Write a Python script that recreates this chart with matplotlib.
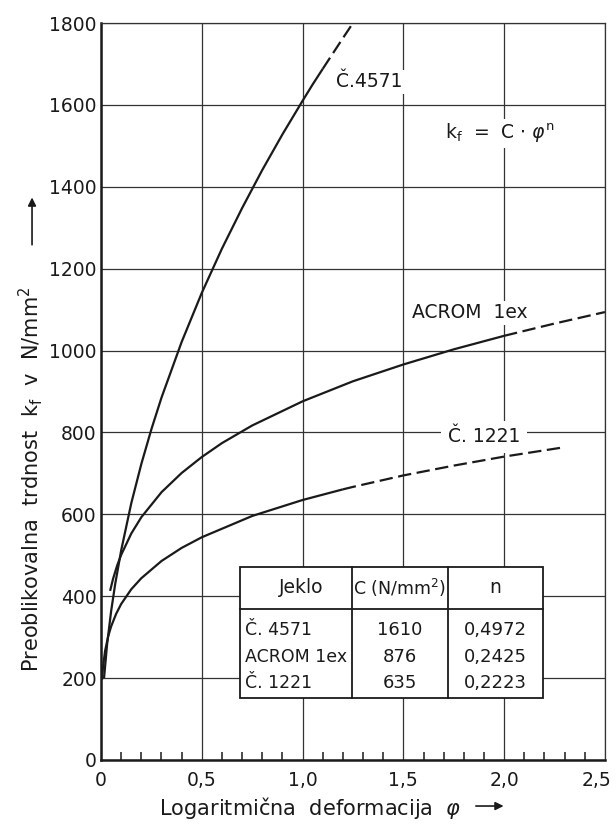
import numpy as np
import matplotlib
matplotlib.use("Agg")
import matplotlib.pyplot as plt
import matplotlib.transforms as mtransforms
from matplotlib.patches import Rectangle

# values (kf in N/mm2 vs. logarithmic strain phi)
phi_4571 = [0.015, 0.03, 0.05, 0.07, 0.10, 0.15, 0.20, 0.25, 0.30, 0.40, 0.50,
            0.60, 0.70, 0.80, 0.90, 1.00, 1.05, 1.10, 1.20, 1.25]
kf_4571 = [200, 282, 363, 429, 512, 627, 723, 808, 885, 1021, 1141,
           1249, 1348, 1441, 1528, 1610, 1650, 1688, 1763, 1800]
dash_from_4571 = 1.10

phi_acrom = [0.045, 0.06, 0.08, 0.10, 0.15, 0.20, 0.30, 0.40, 0.50, 0.60, 0.75,
             1.00, 1.25, 1.50, 1.75, 2.00, 2.25, 2.50]
kf_acrom = [413, 443, 475, 501, 553, 593, 654, 701, 740, 774, 817,
            876, 925, 966, 1003, 1036, 1066, 1094]
dash_from_acrom = 2.00

phi_1221 = [0.005, 0.01, 0.02, 0.035, 0.05, 0.075, 0.10, 0.15, 0.20, 0.30, 0.40,
            0.50, 0.75, 1.00, 1.20, 1.25, 1.50, 1.75, 2.00, 2.30]
kf_1221 = [196, 228, 266, 301, 326, 357, 381, 417, 444, 486, 518,
           544, 596, 635, 661, 667, 695, 719, 741, 764]
dash_from_1221 = 1.20

table_header = ["Jeklo", "C (N/mm$^2$)", "n"]
table_steel = ["Č. 4571", "ACROM 1ex", "Č. 1221"]
table_c = ["1610", "876", "635"]
table_n = ["0,4972", "0,2425", "0,2223"]

x_ticks = [0, 0.5, 1.0, 1.5, 2.0, 2.5]
x_ticklabels = ["0", "0,5", "1,0", "1,5", "2,0", "2,5"]
y_ticks = list(range(0, 1801, 200))

INK = "#1a1a1a"
plt.rcParams["font.family"] = ["DejaVu Sans"]
plt.rcParams["text.color"] = INK

fig = plt.figure(figsize=(6.16, 8.25), dpi=100)
ax = fig.add_axes([0.164, 0.0788, 0.818, 0.8933])


def draw_curve(phi, kf, dash_from):
    phi = np.array(phi)
    kf = np.array(kf)
    solid = phi <= dash_from
    dashed = phi >= dash_from
    ax.plot(phi[solid], kf[solid], color=INK, lw=1.6, solid_capstyle="butt", zorder=4)
    ax.plot(phi[dashed], kf[dashed], color=INK, lw=1.6,
            linestyle=(0, (6, 2.5)), dash_capstyle="butt", zorder=4)


draw_curve(phi_4571, kf_4571, dash_from_4571)
draw_curve(phi_acrom, kf_acrom, dash_from_acrom)
draw_curve(phi_1221, kf_1221, dash_from_1221)

ax.set_xlim(0, 2.5)
ax.set_ylim(0, 1800)
ax.set_xticks(x_ticks)
ax.set_xticklabels(x_ticklabels)
ax.set_yticks(y_ticks)
ax.set_xticks(np.arange(0.1, 2.5, 0.1), minor=True)
ax.tick_params(axis="both", which="major", length=0, labelsize=13.5, colors=INK)
ax.tick_params(axis="x", which="major", pad=8)
ax.tick_params(axis="y", which="major", pad=3)
ax.tick_params(axis="x", which="minor", direction="in", length=6, width=1.1, color=INK)
# last x label sits against the figure edge
last = ax.get_xticklabels()[-1]
last.set_transform(last.get_transform() + mtransforms.ScaledTranslation(-6 / 72, 0, fig.dpi_scale_trans))
ax.grid(True, which="major", color="#333333", lw=0.9)
ax.set_axisbelow(True)
for side in ["left", "bottom"]:
    ax.spines[side].set_linewidth(1.8)
    ax.spines[side].set_color(INK)
for side in ["top", "right"]:
    ax.spines[side].set_linewidth(0.9)
    ax.spines[side].set_color("#333333")

box = dict(facecolor="white", edgecolor="none", pad=2)
ax.text(1.33, 1656, "Č.4571", fontsize=13.5, ha="center", va="center", bbox=box, zorder=3)
ax.text(1.98, 1531, r"k$_\mathregular{f}$  =  C $\cdot$ $\varphi^\mathregular{n}$",
        fontsize=13.5, ha="center", va="center", bbox=box, zorder=3)
ax.text(1.543, 1092, "ACROM  1ex", fontsize=13.5, ha="left", va="center", bbox=box, zorder=3)
ax.text(1.90, 789, "Č. 1221", fontsize=13.5, ha="center", va="center",
        bbox=dict(facecolor="white", edgecolor="none", pad=5), zorder=3)

# parameter table inside the axes
tx = [0.276, 0.498, 0.688, 0.877]
ty_top, ty_head, ty_bot = 0.262, 0.205, 0.084
ax.add_patch(Rectangle((tx[0], ty_bot), tx[3] - tx[0], ty_top - ty_bot,
                       transform=ax.transAxes, facecolor="white", edgecolor=INK,
                       lw=1.3, zorder=5))
ax.plot([tx[0], tx[3]], [ty_head, ty_head], transform=ax.transAxes, color=INK, lw=1.3, zorder=6)
for xv in tx[1:3]:
    ax.plot([xv, xv], [ty_bot, ty_top], transform=ax.transAxes, color=INK, lw=1.3, zorder=6)
head_y = (ty_top + ty_head) / 2
ax.text((tx[0] + tx[1]) / 2 + 0.01, head_y, table_header[0], transform=ax.transAxes,
        fontsize=13.5, ha="center", va="center", zorder=7)
ax.text((tx[1] + tx[2]) / 2, head_y, table_header[1], transform=ax.transAxes,
        fontsize=12.5, ha="center", va="center", zorder=7)
ax.text((tx[2] + tx[3]) / 2, head_y, table_header[2], transform=ax.transAxes,
        fontsize=13.5, ha="center", va="center", zorder=7)
row_y = [0.176, 0.140, 0.104]
for i in range(3):
    ax.text(tx[0] + 0.01, row_y[i], table_steel[i], transform=ax.transAxes,
            fontsize=12.5, ha="left", va="center", zorder=7)
    ax.text((tx[1] + tx[2]) / 2, row_y[i], table_c[i], transform=ax.transAxes,
            fontsize=13, ha="center", va="center", zorder=7)
    ax.text((tx[2] + tx[3]) / 2, row_y[i], table_n[i], transform=ax.transAxes,
            fontsize=13, ha="center", va="center", zorder=7)

# axis labels with arrows
fig.text(0.049, 0.419, r"Preoblikovalna  trdnost  k$_\mathregular{f}$  v  N/mm$^\mathregular{2}$",
         rotation=90, fontsize=15, ha="center", va="center")
fig.text(0.503, 0.021, r"Logaritmična  deformacija  $\varphi$", fontsize=15,
         ha="center", va="center")
arrow = dict(arrowstyle="-|>", color=INK, lw=1.2, mutation_scale=12)
ax.annotate("", xy=(0.052, 0.764), xytext=(0.052, 0.700), xycoords="figure fraction",
            textcoords="figure fraction", arrowprops=arrow, annotation_clip=False)
ax.annotate("", xy=(0.822, 0.023), xytext=(0.768, 0.023), xycoords="figure fraction",
            textcoords="figure fraction", arrowprops=arrow, annotation_clip=False)

fig.savefig("out.png", dpi=100)
